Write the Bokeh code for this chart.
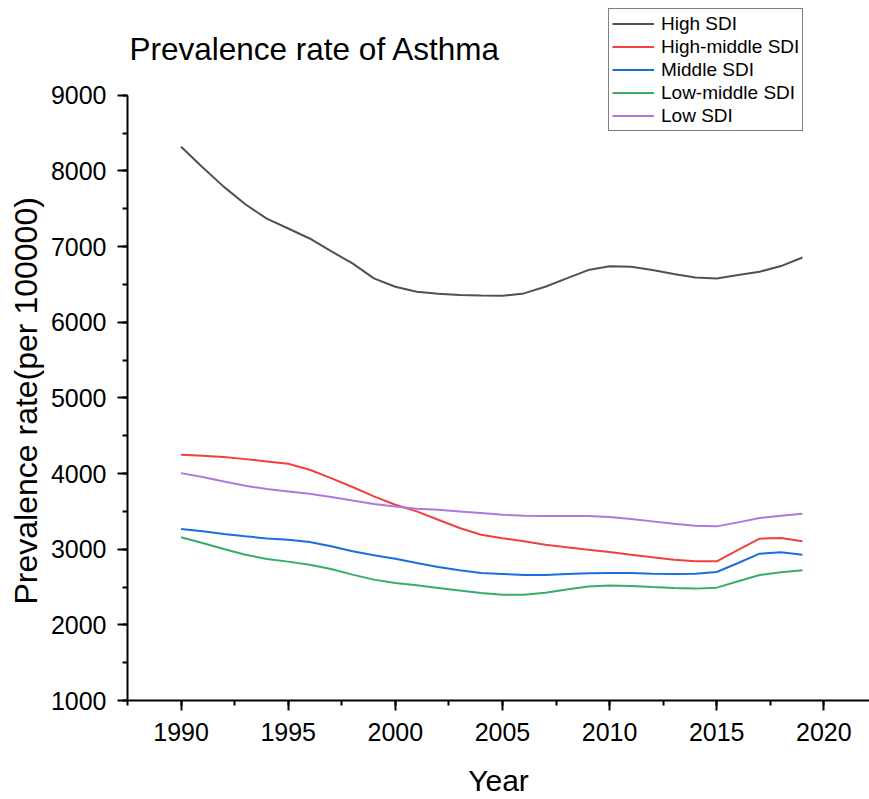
from bokeh.plotting import figure
from bokeh.models import SingleIntervalTicker, Range1d, Legend, LegendItem, Label, Title
from bokeh.embed import file_html
from bokeh.resources import INLINE

years = list(range(1990, 2020))
high_sdi = [8320, 8050, 7790, 7560, 7370, 7240, 7108, 6940, 6778, 6580,
            6470, 6404, 6377, 6362, 6355, 6350, 6382, 6470, 6580, 6690,
            6740, 6734, 6690, 6637, 6593, 6580, 6624, 6668, 6743, 6857]
high_middle_sdi = [4248, 4235, 4218, 4191, 4160, 4129, 4050, 3940, 3822, 3698,
                   3588, 3500, 3390, 3280, 3192, 3145, 3104, 3060, 3025, 2994,
                   2964, 2928, 2893, 2862, 2840, 2840, 2990, 3139, 3148, 3104]
middle_sdi = [3267, 3236, 3201, 3170, 3143, 3126, 3096, 3038, 2972, 2919,
              2875, 2818, 2765, 2721, 2686, 2673, 2660, 2660, 2673, 2681,
              2686, 2686, 2677, 2673, 2677, 2699, 2818, 2941, 2959, 2928]
low_middle_sdi = [3157, 3082, 3003, 2928, 2871, 2836, 2796, 2739, 2664, 2598,
                  2554, 2523, 2488, 2453, 2422, 2397, 2397, 2423, 2466, 2506,
                  2519, 2515, 2501, 2488, 2479, 2492, 2576, 2660, 2695, 2721]
low_sdi = [4006, 3954, 3896, 3839, 3795, 3764, 3733, 3689, 3645, 3597,
           3566, 3535, 3522, 3500, 3478, 3456, 3443, 3440, 3440, 3438,
           3425, 3399, 3368, 3337, 3311, 3302, 3355, 3412, 3443, 3469]

series_names = ["High SDI", "High-middle SDI", "Middle SDI", "Low-middle SDI", "Low SDI"]
series_values = [high_sdi, high_middle_sdi, middle_sdi, low_middle_sdi, low_sdi]
colors = ["#515151", "#F14040", "#1A6FDF", "#37AD6B", "#B177DE"]

FONT = "Liberation Sans"

p = figure(width=869, height=799, output_backend="svg", toolbar_location=None,
           x_range=Range1d(1987.5, 2022.13), y_range=Range1d(1000, 10254),
           min_border_left=127, min_border_right=0, min_border_top=0, min_border_bottom=98)
p.outline_line_color = None
p.grid.visible = False
p.background_fill_color = "white"
p.border_fill_color = "white"

p.xaxis.ticker = SingleIntervalTicker(interval=5, num_minor_ticks=2)
p.yaxis.ticker = SingleIntervalTicker(interval=1000, num_minor_ticks=2)
p.yaxis.bounds = (1000, 9000)
for ax in [p.xaxis[0], p.yaxis[0]]:
    ax.axis_line_width = 2
    ax.major_tick_line_width = 2
    ax.minor_tick_line_width = 2
    ax.major_tick_out = 10
    ax.major_tick_in = 0
    ax.minor_tick_out = 5
    ax.minor_tick_in = 0
    ax.major_label_text_font = FONT
    ax.major_label_text_font_size = "25px"
    ax.major_label_text_color = "black"
    ax.axis_label_text_font = FONT
    ax.axis_label_text_font_style = "normal"
    ax.axis_label_text_color = "black"
p.yaxis.major_label_standoff = 11
p.xaxis.major_label_standoff = 12
p.xaxis.axis_label = "Year"
p.xaxis.axis_label_text_font_size = "30px"
p.xaxis.axis_label_standoff = 20

ylabel = Title(text="Prevalence rate(per 100000)", align="left", offset=96,
               text_font=FONT, text_font_size="32px", text_font_style="normal",
               text_color="black", standoff=8)
p.add_layout(ylabel, "left")

title = Label(x=2, y=652, x_units="screen", y_units="screen",
              text="Prevalence rate of Asthma", text_font=FONT,
              text_font_size="31.5px", text_color="black",
              text_baseline="alphabetic", text_align="left")
p.add_layout(title)

items = []
for name, vals, c in zip(series_names, series_values, colors):
    r = p.line(years, vals, line_color=c, line_width=2)
    items.append(LegendItem(label=name, renderers=[r]))

legend = Legend(items=items, location=(481, 569), orientation="vertical",
                label_text_font=FONT, label_text_font_size="19px",
                label_text_color="black",
                glyph_width=42, glyph_height=23, label_height=23,
                label_standoff=7, spacing=0, padding=3, margin=0,
                border_line_color="black", border_line_width=1,
                background_fill_alpha=1)
p.add_layout(legend, "center")

open("out.html", "w").write(file_html(p, INLINE))
